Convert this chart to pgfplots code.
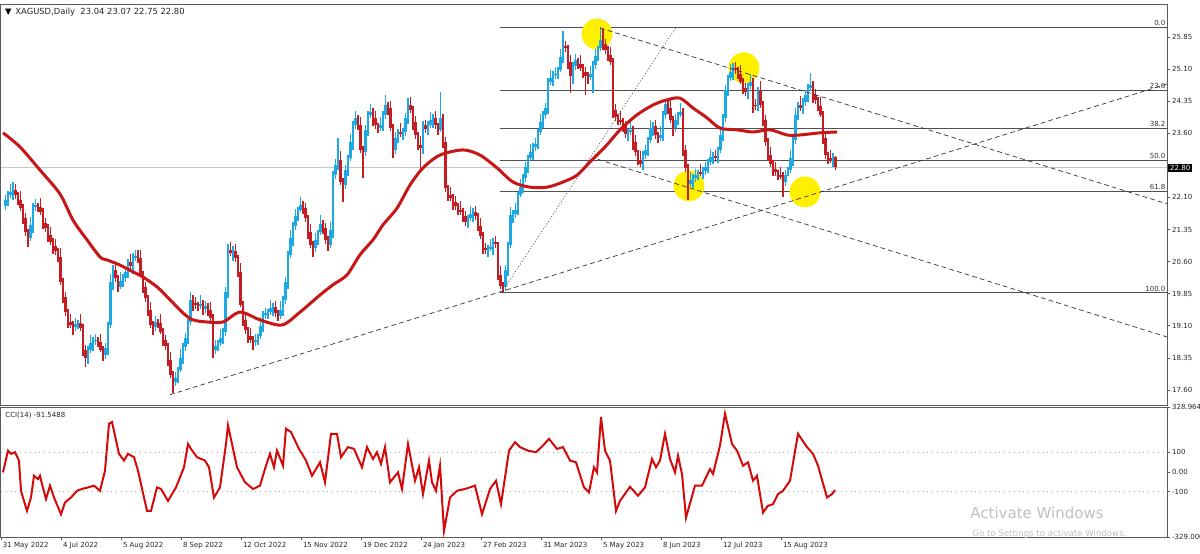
\documentclass[border=0pt]{standalone}
\usepackage{fontspec}
\setmainfont{DejaVu Sans}
\usepackage{pgfplots}
\usepackage{pgfplotstable}
\pgfplotsset{compat=1.18}

\definecolor{bull}{RGB}{30,168,228}
\definecolor{bear}{RGB}{196,30,36}
\definecolor{maline}{RGB}{200,22,22}
\definecolor{cciline}{RGB}{212,10,10}
\definecolor{fibgray}{RGB}{80,80,80}
\definecolor{hilite}{RGB}{255,240,0}
\definecolor{framec}{RGB}{90,90,90}

\newcommand{\chartfont}{\fontsize{3.5}{4.2}\selectfont}

% daily XAGUSD candles, i = bar number
\pgfplotstableread{
i o h l c
1 21.90 22.16 21.80 22.04
2 22.04 22.24 21.89 22.16
3 22.16 22.41 22.09 22.23
4 22.23 22.45 22.05 22.27
5 22.27 22.42 22.07 22.16
6 22.16 22.22 21.92 22.04
7 22.04 22.24 21.79 21.85
8 21.85 21.94 21.48 21.62
9 21.62 21.74 21.19 21.29
10 21.29 21.37 20.94 21.15
11 21.15 21.64 21.08 21.46
12 21.46 21.98 21.28 21.88
13 21.88 22.07 21.79 21.92
14 21.92 21.98 21.76 21.88
15 21.88 22.08 21.70 21.76
16 21.76 21.85 21.36 21.50
17 21.50 21.62 21.29 21.39
18 21.39 21.47 21.07 21.22
19 21.22 21.40 20.99 21.06
20 21.06 21.16 20.79 20.97
21 20.97 21.12 20.76 20.85
22 20.85 20.91 20.59 20.71
23 20.71 20.91 20.06 20.12
24 20.12 20.21 19.63 19.77
25 19.77 19.89 19.32 19.42
26 19.42 19.50 19.04 19.19
27 19.19 19.37 19.05 19.12
28 19.12 19.22 18.89 19.07
29 19.07 19.29 18.98 19.14
30 19.14 19.23 19.02 19.17
31 19.17 19.37 18.99 19.05
32 19.05 19.14 18.40 18.54
33 18.54 18.66 18.14 18.35
34 18.35 18.62 18.20 18.54
35 18.54 18.88 18.47 18.70
36 18.70 18.85 18.52 18.75
37 18.75 18.92 18.66 18.77
38 18.77 18.83 18.60 18.72
39 18.72 18.92 18.48 18.54
40 18.54 18.63 18.28 18.42
41 18.42 18.70 18.32 18.58
42 18.58 19.20 18.43 19.12
43 19.12 20.30 19.05 20.12
44 20.12 20.51 19.94 20.41
45 20.41 20.56 20.13 20.22
46 20.22 20.28 19.89 20.01
47 20.01 20.35 19.95 20.15
48 20.15 20.31 20.01 20.22
49 20.22 20.48 20.12 20.36
50 20.36 20.67 20.21 20.59
51 20.59 20.77 20.43 20.50
52 20.50 20.81 20.32 20.71
53 20.71 20.88 20.62 20.73
54 20.73 20.87 20.56 20.68
55 20.68 20.88 20.23 20.29
56 20.29 20.38 19.87 20.01
57 20.01 20.13 19.65 19.75
58 19.75 19.83 19.32 19.47
59 19.47 19.65 19.05 19.12
60 19.12 19.22 18.89 19.07
61 19.07 19.34 18.98 19.19
62 19.19 19.25 19.05 19.17
63 19.17 19.37 18.90 18.96
64 18.96 19.05 18.63 18.77
65 18.77 18.89 18.53 18.63
66 18.63 18.71 18.15 18.30
67 18.30 18.48 17.88 17.95
68 17.95 18.05 17.53 17.79
69 17.79 18.03 17.70 17.88
70 17.88 18.13 17.76 18.07
71 18.07 18.55 18.01 18.35
72 18.35 18.70 18.21 18.61
73 18.61 18.94 18.51 18.82
74 18.82 19.27 18.67 19.19
75 19.19 19.89 19.12 19.71
76 19.71 19.81 19.45 19.63
77 19.63 19.78 19.50 19.59
78 19.59 19.65 19.44 19.56
79 19.56 19.82 19.50 19.62
80 19.62 19.71 19.36 19.50
81 19.50 19.68 19.40 19.56
82 19.56 19.64 19.32 19.47
83 19.47 19.65 19.21 19.28
84 19.28 19.38 18.36 18.54
85 18.54 18.78 18.45 18.63
86 18.63 18.76 18.51 18.70
87 18.70 19.02 18.64 18.82
88 18.82 19.05 18.68 18.96
89 18.96 20.01 18.86 19.89
90 19.89 21.02 19.74 20.87
91 20.87 21.05 20.73 20.80
92 20.80 20.96 20.62 20.86
93 20.86 21.01 20.60 20.69
94 20.69 20.75 20.24 20.36
95 20.36 20.56 19.53 19.59
96 19.59 19.68 19.10 19.24
97 19.24 19.36 18.90 19.00
98 19.00 19.08 18.71 18.86
99 18.86 19.04 18.70 18.77
100 18.77 18.87 18.54 18.72
101 18.72 18.92 18.63 18.77
102 18.77 18.92 18.65 18.86
103 18.86 19.30 18.80 19.10
104 19.10 19.44 18.96 19.35
105 19.35 19.52 19.25 19.40
106 19.40 19.50 19.25 19.42
107 19.42 19.70 19.35 19.52
108 19.52 19.64 19.34 19.54
109 19.54 19.69 19.31 19.40
110 19.40 19.46 19.21 19.33
111 19.33 19.67 19.27 19.47
112 19.47 19.80 19.33 19.71
113 19.71 20.24 19.61 20.12
114 20.12 20.84 19.97 20.76
115 20.76 21.33 20.69 21.15
116 21.15 21.53 20.97 21.43
117 21.43 21.82 21.34 21.67
118 21.67 21.87 21.55 21.81
119 21.81 22.12 21.75 21.92
120 21.92 22.01 21.71 21.85
121 21.85 21.97 21.52 21.62
122 21.62 21.70 21.14 21.29
123 21.29 21.47 20.92 20.99
124 20.99 21.09 20.70 20.92
125 20.92 21.26 20.83 21.11
126 21.11 21.35 20.99 21.29
127 21.29 21.68 21.23 21.48
128 21.48 21.57 21.25 21.39
129 21.39 21.51 21.01 21.11
130 21.11 21.19 20.84 20.99
131 20.99 21.52 20.92 21.34
132 21.34 22.72 21.16 22.62
133 22.62 23.01 22.53 22.86
134 22.86 23.49 22.74 22.98
135 22.98 23.18 22.40 22.46
136 22.46 22.55 22.00 22.39
137 22.39 22.86 22.29 22.74
138 22.74 23.10 22.59 23.02
139 23.02 23.58 22.95 23.40
140 23.40 23.89 23.22 23.79
141 23.79 24.11 23.70 23.96
142 23.96 24.02 23.67 23.79
143 23.79 23.99 23.15 23.21
144 23.21 23.30 22.55 23.16
145 23.16 23.80 23.06 23.68
146 23.68 24.11 23.53 24.03
147 24.03 24.28 23.96 24.10
148 24.10 24.20 23.78 23.96
149 23.96 24.11 23.70 23.79
150 23.79 23.85 23.60 23.72
151 23.72 23.99 23.66 23.79
152 23.79 24.12 23.65 24.03
153 24.03 24.50 23.93 24.26
154 24.26 24.34 24.03 24.18
155 24.18 24.36 23.65 23.72
156 23.72 23.82 23.03 23.21
157 23.21 23.64 23.12 23.49
158 23.49 23.69 23.37 23.63
159 23.63 23.83 23.52 23.58
160 23.58 23.72 23.44 23.63
161 23.63 24.08 23.53 23.96
162 23.96 24.42 23.81 24.26
163 24.26 24.44 24.07 24.14
164 24.14 24.24 23.68 23.86
165 23.86 24.01 23.47 23.56
166 23.56 23.62 23.21 23.33
167 23.33 23.53 22.74 23.26
168 23.26 23.88 23.12 23.79
169 23.79 23.91 23.60 23.70
170 23.70 23.88 23.55 23.80
171 23.80 24.09 23.73 23.91
172 23.91 24.06 23.73 23.96
173 23.96 24.11 23.70 23.79
174 23.79 23.85 23.56 23.68
175 23.68 24.57 23.62 23.96
176 23.96 24.05 23.26 23.40
177 23.40 23.52 22.22 22.32
178 22.32 22.40 22.01 22.16
179 22.16 22.34 22.02 22.09
180 22.09 22.19 21.81 21.99
181 21.99 22.14 21.81 21.90
182 21.90 21.96 21.69 21.81
183 21.81 22.01 21.70 21.76
184 21.76 21.85 21.53 21.67
185 21.67 21.79 21.43 21.53
186 21.53 21.70 21.38 21.62
187 21.62 21.89 21.55 21.71
188 21.71 21.86 21.53 21.76
189 21.76 21.91 21.58 21.67
190 21.67 21.73 21.31 21.43
191 21.43 21.63 21.14 21.20
192 21.20 21.29 20.78 20.92
193 20.92 21.04 20.77 20.87
194 20.87 21.00 20.72 20.92
195 20.92 21.12 20.85 20.94
196 20.94 21.16 20.76 21.06
197 21.06 21.21 20.92 21.01
198 21.01 21.07 20.17 20.29
199 20.29 20.49 19.97 20.03
200 20.03 20.12 19.87 20.01
201 20.01 20.53 19.91 20.41
202 20.41 21.07 20.26 20.99
203 20.99 21.87 20.92 21.69
204 21.69 21.81 21.51 21.71
205 21.71 21.96 21.62 21.81
206 21.81 22.22 21.69 22.16
207 22.16 22.54 22.10 22.34
208 22.34 22.64 22.20 22.55
209 22.55 22.93 22.45 22.81
210 22.81 23.10 22.66 23.02
211 23.02 23.34 22.95 23.16
212 23.16 23.38 22.98 23.28
213 23.28 23.50 23.19 23.35
214 23.35 23.69 23.23 23.63
215 23.63 24.06 23.57 23.86
216 23.86 24.12 23.72 24.03
217 24.03 24.31 23.93 24.19
218 24.19 24.88 24.04 24.80
219 24.80 25.07 24.73 24.89
220 24.89 25.06 24.71 24.96
221 24.96 25.14 24.87 24.99
222 24.99 25.14 24.87 25.08
223 25.08 25.58 25.02 25.38
224 25.38 25.98 25.24 25.64
225 25.64 25.76 25.49 25.59
226 25.59 25.67 25.11 25.26
227 25.26 25.44 24.55 24.94
228 24.94 25.27 24.76 25.17
229 25.17 25.46 25.08 25.31
230 25.31 25.37 25.10 25.22
231 25.22 25.42 25.06 25.12
232 25.12 25.21 24.89 25.03
233 25.03 25.15 24.50 24.94
234 24.94 25.02 24.76 24.91
235 24.91 25.17 24.84 24.99
236 24.99 25.30 24.55 25.20
237 25.20 25.56 25.11 25.41
238 25.41 25.65 25.29 25.59
239 25.59 26.08 25.53 25.78
240 25.78 26.04 25.55 25.69
241 25.69 25.81 25.45 25.55
242 25.55 25.63 25.28 25.43
243 25.43 25.61 25.19 25.26
244 25.26 25.36 23.96 24.14
245 24.14 24.29 23.89 23.98
246 23.98 24.04 23.79 23.91
247 23.91 24.11 23.80 23.86
248 23.86 23.95 23.63 23.77
249 23.77 23.89 23.48 23.58
250 23.58 23.71 23.43 23.63
251 23.63 23.86 23.56 23.68
252 23.68 23.78 23.22 23.40
253 23.40 23.55 23.07 23.16
254 23.16 23.22 22.86 22.98
255 22.98 23.18 22.82 22.88
256 22.88 23.18 22.74 23.09
257 23.09 23.33 22.99 23.21
258 23.21 23.52 23.06 23.44
259 23.44 23.90 23.37 23.72
260 23.72 23.87 23.54 23.77
261 23.77 23.92 23.47 23.56
262 23.56 23.62 23.37 23.49
263 23.49 23.76 23.43 23.56
264 23.56 24.12 23.42 24.03
265 24.03 24.40 23.93 24.28
266 24.28 24.36 24.04 24.19
267 24.19 24.37 23.84 23.91
268 23.91 24.01 23.54 23.72
269 23.72 24.06 23.63 23.91
270 23.91 24.09 23.79 24.03
271 24.03 24.30 23.97 24.10
272 24.10 24.19 23.07 23.21
273 23.21 23.33 22.69 22.79
274 22.79 22.87 22.05 22.42
275 22.42 22.69 22.35 22.51
276 22.51 22.65 22.33 22.55
277 22.55 22.77 22.46 22.62
278 22.62 22.75 22.50 22.69
279 22.69 22.89 22.61 22.67
280 22.67 22.81 22.53 22.72
281 22.72 22.93 22.62 22.81
282 22.81 23.01 22.66 22.93
283 22.93 23.23 22.86 23.05
284 23.05 23.17 22.87 23.07
285 23.07 23.22 22.93 23.02
286 23.02 23.27 22.90 23.21
287 23.21 23.76 23.15 23.56
288 23.56 24.05 23.42 23.96
289 23.96 24.73 23.86 24.61
290 24.61 24.97 24.46 24.89
291 24.89 25.21 24.82 25.03
292 25.03 25.24 24.85 25.12
293 25.12 25.27 24.99 25.08
294 25.08 25.14 24.87 24.99
295 24.99 25.19 24.74 24.80
296 24.80 24.89 24.52 24.66
297 24.66 24.78 24.46 24.56
298 24.56 24.78 24.41 24.70
299 24.70 24.98 24.63 24.80
300 24.80 24.90 24.08 24.26
301 24.26 24.41 24.15 24.24
302 24.24 24.67 24.12 24.61
303 24.61 24.81 24.20 24.26
304 24.26 24.35 23.77 23.91
305 23.91 24.03 23.30 23.40
306 23.40 23.48 22.94 23.09
307 23.09 23.27 22.81 22.88
308 22.88 22.98 22.59 22.77
309 22.77 22.92 22.60 22.69
310 22.69 22.75 22.50 22.62
311 22.62 22.82 22.54 22.60
312 22.60 22.69 22.10 22.46
313 22.46 22.74 22.36 22.62
314 22.62 22.82 22.59 22.74
315 22.74 23.20 22.67 23.02
316 23.02 23.54 22.84 23.44
317 23.44 24.18 23.35 24.03
318 24.03 24.32 23.91 24.26
319 24.26 24.46 24.13 24.19
320 24.19 24.42 24.05 24.33
321 24.33 24.61 24.23 24.49
322 24.49 24.74 24.34 24.66
323 24.66 25.00 24.59 24.73
324 24.73 24.83 24.31 24.49
325 24.49 24.64 24.29 24.38
326 24.38 24.44 24.12 24.24
327 24.24 24.44 23.97 24.03
328 24.03 24.12 23.35 23.49
329 23.49 23.61 22.99 23.09
330 23.09 23.17 22.87 23.02
331 23.02 23.20 22.91 22.98
332 22.98 23.14 22.80 23.04
333 23.04 23.07 22.75 22.80
}\candles

% red moving average
\pgfplotstableread{
i ma
0 23.61
6.8 23.28
14.8 22.74
22.8 22.18
28 21.57
33.6 21.11
38.8 20.71
41.6 20.64
46.8 20.52
52 20.36
56 20.24
61.6 20.01
66.8 19.71
72 19.40
76 19.24
81.6 19.19
88 19.19
94.8 19.42
102.8 19.24
111.6 19.12
118.8 19.42
126.8 19.82
132 20.06
137.6 20.29
142.8 20.76
148 21.11
152 21.46
157.6 21.85
162.8 22.39
168 22.79
174.8 23.09
184 23.21
190.8 23.09
197.6 22.79
204 22.46
210.8 22.34
217.6 22.34
224 22.46
229.6 22.62
234.8 22.93
241.6 23.33
246.8 23.68
253.6 24.03
260 24.26
265.6 24.38
270.8 24.42
276 24.19
281.6 23.96
286.8 23.72
293.6 23.68
300 23.63
306.8 23.68
313.6 23.56
318.8 23.56
326.8 23.61
333.6 23.63
}\matable

% CCI(14)
\pgfplotstableread{
i cci
0 -2
2 108
3.2 92
4.8 100
6.4 58
7.2 -95
9.6 -197
11.2 -129
12.4 -19
14 -36
14.8 -19
15.6 -61
17.2 -137
18.8 -69
20.4 -129
23.2 -214
24.8 -154
27.2 -129
29.6 -95
31.6 -86
34 -78
36.4 -69
38.8 -95
40.8 7
42.4 244
43.6 253
46.4 92
48.4 58
50 92
52.4 75
54 7
57.6 -197
59.2 -197
61.6 -78
63.2 -86
66 -146
69.2 -78
72.4 24
74 142
75.2 117
77.6 75
80.8 58
82.4 24
84.4 -129
86.8 -78
89.2 142
90 236
91.6 142
93.6 24
96.8 -52
100 -86
102.8 -69
105.2 32
106.8 92
108.4 24
109.6 108
112 32
113.2 219
115.2 202
118.4 117
121.2 58
123.6 -19
126.8 49
128.8 -52
131.2 193
133.6 193
135.2 75
138 126
140.4 117
143.6 24
145.6 126
148 66
149.6 100
151.2 41
152.8 126
154.8 -52
158 -2
159.6 -86
162 142
164.8 -44
166.4 24
168 -112
170.4 58
171.6 -52
173.2 -95
174.8 32
176.4 -298
178.8 -129
181.6 -95
184.8 -86
188.8 -69
191.6 -214
194.8 -86
197.2 -44
199.2 -163
202.4 108
204.8 151
206.8 126
210 108
213.2 100
216 134
218.4 168
221.6 117
224 126
226.8 58
229.2 49
232.4 -78
234.4 -103
236.4 24
237.6 -2
239.2 278
240.8 108
242.8 58
245.2 -197
246.8 -146
250.8 -75
254 -120
256.8 -78
259.6 66
261.2 24
262.8 58
264.8 193
266.8 66
268.8 -2
270 83
271.6 -10
273.2 -231
276.8 -69
279.6 -69
282.8 15
284 -10
286.8 134
288.8 295
291.6 142
293.6 108
296 32
298 49
300 -44
301.6 -19
304 -205
306 -171
308 -163
310 -112
312 -95
314.8 -44
318 193
321.6 126
324 92
326 32
329.6 -129
331.6 -112
332.8 -91.5488
}\ccitable

\pgfplotsset{
  mtpanel/.style={
    scale only axis, anchor=south west,
    xmin=-0.8, xmax=465.6,
    axis line style={framec, line width=0.5pt},
    tick style={framec, line width=0.4pt},
    tick align=outside, major tick length=1.6pt,
    ytick pos=right, yticklabel pos=right,
    ticklabel style={font=\chartfont, text=black!85},
    yticklabel style={inner sep=0.8pt},
    clip mode=individual,
    /pgf/number format/assume math mode=true,
  },
  candle/.style={only marks, mark=*, mark size=0pt, mark options={draw=none, fill=none}, forget plot,
    error bars/y dir=both, error bars/y explicit, error bars/error mark=none},
}

\begin{document}
\begin{tikzpicture}
\useasboundingbox (0,0) rectangle (600pt,276.5pt);

\begin{axis}[mtpanel, at={(0.5pt,74pt)}, width=583pt, height=200.5pt,
  ymin=17.25, ymax=26.62, xtick=\empty,
  ytick={17.6,18.35,19.1,19.85,20.6,21.35,22.1,23.6,24.35,25.1,25.85},
  yticklabel style={/pgf/number format/fixed, /pgf/number format/fixed zerofill,
    /pgf/number format/precision=2}]

% last price line
\addplot[black!22, line width=0.4pt] coordinates {(-0.8,22.80) (465.6,22.80)};

% fibonacci retracement
\addplot[fibgray, line width=0.5pt] coordinates {(198.8,26.08) (465.6,26.08)};
\addplot[fibgray, line width=0.5pt] coordinates {(198.8,24.61) (465.6,24.61)};
\addplot[fibgray, line width=0.5pt] coordinates {(198.8,23.71) (465.6,23.71)};
\addplot[fibgray, line width=0.5pt] coordinates {(198.8,22.975) (465.6,22.975)};
\addplot[fibgray, line width=0.5pt] coordinates {(198.8,22.24) (465.6,22.24)};
\addplot[fibgray, line width=0.5pt] coordinates {(198.8,19.87) (465.6,19.87)};

% highlighted touches
\addplot[only marks, mark=*, mark size=7.5pt, color=hilite]
  coordinates {(237.6,25.92) (296.4,25.13) (274.4,22.37) (320.8,22.23)};

% wicks and bodies
\addplot[candle, restrict expr to domain={\thisrow{c}-\thisrow{o}}{0:50},
  error bars/error bar style={draw=bull, line width=0.55pt}]
  table[x=i, y expr={(\thisrow{h}+\thisrow{l})/2}, y error expr={(\thisrow{h}-\thisrow{l})/2}]{\candles};
\addplot[candle, restrict expr to domain={\thisrow{c}-\thisrow{o}}{-50:-0.0001},
  error bars/error bar style={draw=bear, line width=0.55pt}]
  table[x=i, y expr={(\thisrow{h}+\thisrow{l})/2}, y error expr={(\thisrow{h}-\thisrow{l})/2}]{\candles};
\addplot[candle, restrict expr to domain={\thisrow{c}-\thisrow{o}}{0:50},
  error bars/error bar style={draw=bull, line width=1.15pt}]
  table[x=i, y expr={(\thisrow{o}+\thisrow{c})/2}, y error expr={max(abs(\thisrow{c}-\thisrow{o})/2,0.012)}]{\candles};
\addplot[candle, restrict expr to domain={\thisrow{c}-\thisrow{o}}{-50:-0.0001},
  error bars/error bar style={draw=bear, line width=1.15pt}]
  table[x=i, y expr={(\thisrow{o}+\thisrow{c})/2}, y error expr={max(abs(\thisrow{c}-\thisrow{o})/2,0.012)}]{\candles};

% moving average
\addplot[maline, line width=1.5pt, smooth] table[x=i, y=ma]{\matable};

% trend lines
\addplot[black!80, line width=0.35pt, dash pattern=on 2.4pt off 1.6pt] coordinates {(66.8,17.49) (465.6,24.75)};
\addplot[black!80, line width=0.35pt, dash pattern=on 2.4pt off 1.6pt] coordinates {(238.8,26.06) (465.6,21.95)};
\addplot[black!80, line width=0.35pt, dash pattern=on 2.4pt off 1.6pt] coordinates {(238,22.99) (465.6,18.84)};
\addplot[black!70, line width=0.35pt, dash pattern=on 0.5pt off 1pt] coordinates {(199.6,19.89) (269.2,26.08)};

\begin{scope}[every node/.style={font=\chartfont, text=black!80, anchor=south east, inner sep=0.6pt}]
\node at (axis cs:465.6,26.08) {0.0};
\node at (axis cs:465.6,24.61) {23.6};
\node at (axis cs:465.6,23.71) {38.2};
\node at (axis cs:465.6,22.975) {50.0};
\node at (axis cs:465.6,22.24) {61.8};
\node at (axis cs:465.6,19.87) {100.0};
\end{scope}
\end{axis}

\begin{axis}[mtpanel, at={(0.5pt,8pt)}, width=583pt, height=65pt,
  ymin=-329, ymax=328.964,
  ytick={-329,-100,0,100,328.964},
  yticklabels={-329.000,-100,0.00,100,328.964},
  xtick pos=bottom,
  xtick={-0.8,23.2,47.2,71.2,95.2,119.2,143.2,167.2,191.2,215.2,239.2,263.2,287.2,311.2},
  xticklabels={31 May 2022,4 Jul 2022,5 Aug 2022,8 Sep 2022,12 Oct 2022,15 Nov 2022,
    19 Dec 2022,24 Jan 2023,27 Feb 2023,31 Mar 2023,5 May 2023,8 Jun 2023,12 Jul 2023,15 Aug 2023},
  xticklabel style={anchor=north west, inner sep=0.8pt}]
\addplot[black!30, dotted, line width=0.4pt] coordinates {(-0.8,100) (465.6,100)};
\addplot[black!30, dotted, line width=0.4pt] coordinates {(-0.8,-100) (465.6,-100)};
\addplot[cciline, line width=1pt] table[x=i, y=cci]{\ccitable};
\end{axis}

% headings and overlays
\node[font=\fontsize{4.2}{5}\selectfont, anchor=west, inner sep=0] at (2.4pt,270.5pt) {▼};
\node[font=\fontsize{4.2}{5}\selectfont, anchor=west, inner sep=0, text=black!85] at (7.5pt,270.5pt)
  {XAGUSD,Daily\ \ 23.04 23.07 22.75 22.80};
\node[font=\chartfont, anchor=west, inner sep=0, text=black!85] at (2.5pt,69pt) {CCI(14) -91.5488};
\node[font=\chartfont, anchor=west, fill=black, text=white, inner sep=0.9pt] at (584pt,192.5pt) {22.80};
\node[font=\fontsize{7.5}{8}\selectfont, anchor=west, inner sep=0, text=black!25] at (485pt,20pt) {Activate Windows};
\node[font=\fontsize{4.3}{5}\selectfont, anchor=west, inner sep=0, text=black!25] at (486pt,9.5pt) {Go to Settings to activate Windows.};
\end{tikzpicture}
\end{document}
